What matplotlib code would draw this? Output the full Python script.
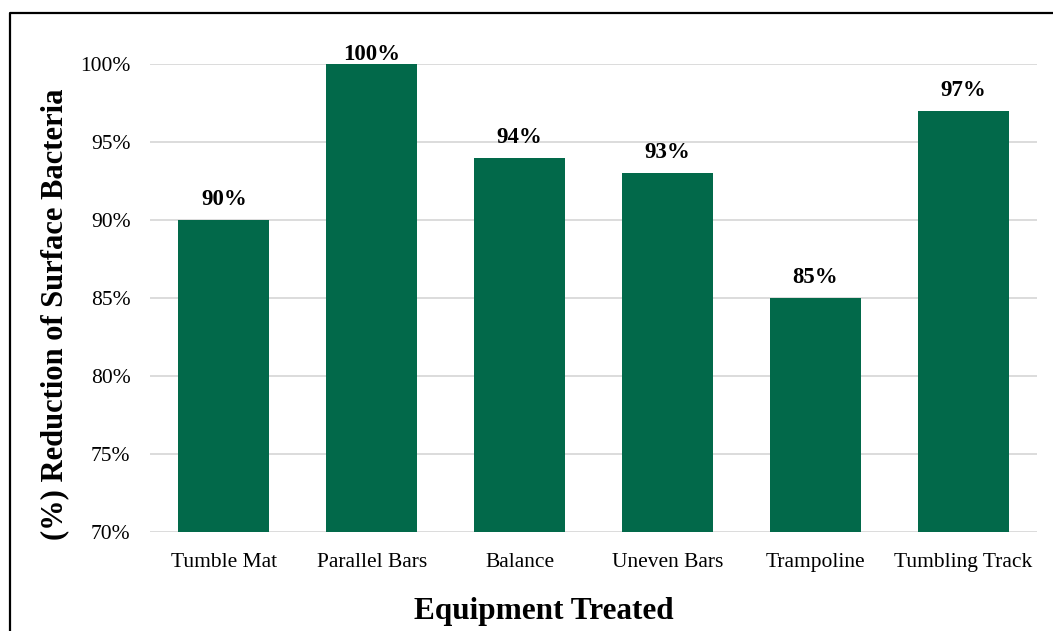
import matplotlib.pyplot as plt
from matplotlib.lines import Line2D

# equipment and % reduction of surface bacteria
equipment = ["Tumble Mat", "Parallel Bars", "Balance", "Uneven Bars", "Trampoline", "Tumbling Track"]
reduction = [90, 100, 94, 93, 85, 97]
yticks = [70, 75, 80, 85, 90, 95, 100]

plt.rcParams['font.family'] = ['Liberation Serif', 'DejaVu Serif']

W, H = 1053, 631
fig = plt.figure(figsize=(W / 100, H / 100), dpi=100)
ax = fig.add_axes([150 / W, 1 - 532 / H, (1037 - 150) / W, (532 - 64) / H])

x = range(len(equipment))
ax.bar(x, reduction, width=0.616, color="#02694A", zorder=3)
for i, v in zip(x, reduction):
    # labels near the top get squeezed down under the chart edge
    ax.text(i, min(v + 0.96, 100.26), f"{v}%", ha="center", va="baseline",
            fontsize=16.5, fontweight="bold")

ax.set_ylim(70, 100)
ax.set_xlim(-0.5, len(equipment) - 0.5)
ax.set_yticks(yticks)
ax.set_yticklabels([f"{t}%" for t in yticks], fontsize=15.5)
ax.set_xticks(list(x))
ax.set_xticklabels(equipment, fontsize=15.5)
ax.tick_params(length=0)
ax.tick_params(axis="y", pad=14)
ax.tick_params(axis="x", pad=15)
ax.yaxis.grid(True, color="#D9D9D9", linewidth=1.3, zorder=0)
for s in ax.spines.values():
    s.set_visible(False)

fig.text(55 / W, 1 - 314 / H, "(%) Reduction of Surface Bacteria", rotation=90,
         ha="center", va="center", fontsize=22, fontweight="bold")
fig.text(544 / W, 1 - 612 / H, "Equipment Treated", ha="center", va="center",
         fontsize=22.5, fontweight="bold")

# outer frame: left and top edges
fig.add_artist(Line2D([9.5 / W, 9.5 / W, 1], [0, 1 - 13 / H, 1 - 13 / H],
                      transform=fig.transFigure, color="black", linewidth=1.6))

fig.savefig("out.png", dpi=100)
